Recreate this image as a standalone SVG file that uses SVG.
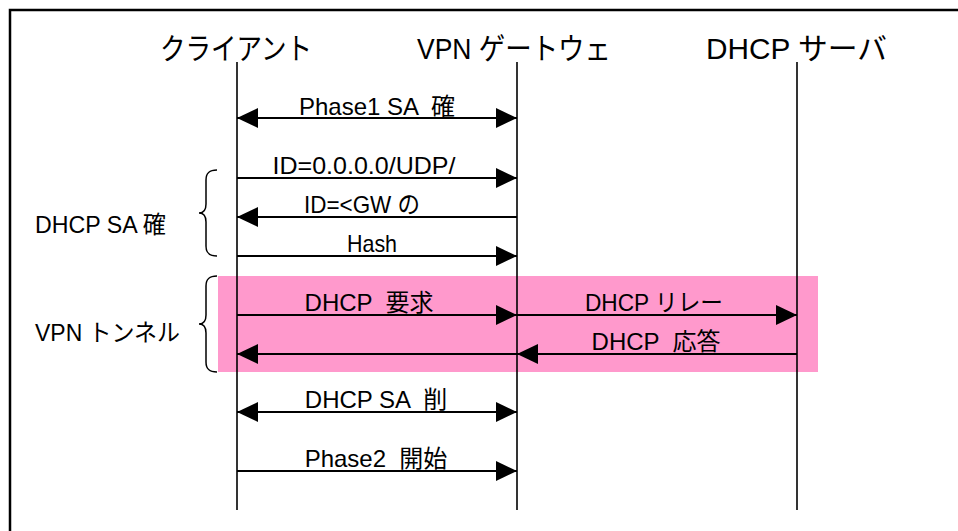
<svg xmlns="http://www.w3.org/2000/svg" width="958" height="531" viewBox="0 0 958 531">
  <style>
    .frame { fill: #ffffff; stroke: #000000; stroke-width: 2.5; }
    .life { stroke: #000000; stroke-width: 1.6; fill: none; }
    .msg { stroke: #000000; stroke-width: 2; fill: none; }
    .brace { stroke: #000000; stroke-width: 1.5; fill: none; }
    .head { font-family: "Liberation Sans", "Noto Sans CJK JP", sans-serif; font-size: 30px; fill: #000000; }
    .lbl { font-family: "Liberation Sans", "Noto Sans CJK JP", sans-serif; font-size: 24px; fill: #000000; }
  </style>
  <defs>
    <marker id="arrow" viewBox="0 0 21 20" refX="21" refY="10" markerWidth="21" markerHeight="20" markerUnits="userSpaceOnUse" orient="auto-start-reverse">
      <path d="M0,0 L21,10 L0,20 z" fill="#000000"/>
    </marker>
  </defs>

  <!-- outer frame (runs past the right and bottom edges) -->
  <rect class="frame" x="10" y="10" width="960" height="540"/>

  <!-- tunnel highlight -->
  <rect id="tunnel-band" x="218" y="276" width="600" height="96" fill="#ff99cc"/>

  <!-- participants -->
  <g id="client">
    <text class="head" x="160" y="59" textLength="152" lengthAdjust="spacingAndGlyphs">クライアント</text>
    <line class="life" x1="237" y1="62" x2="237" y2="510"/>
  </g>
  <g id="gateway">
    <text class="head" x="417" y="59" textLength="194" lengthAdjust="spacingAndGlyphs">VPN ゲートウェ</text>
    <line class="life" x1="517" y1="62" x2="517" y2="510"/>
  </g>
  <g id="dhcp-server">
    <text class="head" x="706" y="59" textLength="181" lengthAdjust="spacingAndGlyphs">DHCP サーバ</text>
    <line class="life" x1="797" y1="62" x2="797" y2="510"/>
  </g>

  <!-- group annotations -->
  <g id="dhcp-sa-group">
    <path class="brace" d="M217,170 C209,170 206,173 206,180 L206,204 C206,210 204,213 199,213 C204,213 206,216 206,222 L206,246 C206,253 209,256 217,256"/>
    <text class="lbl" x="35" y="233" textLength="131" lengthAdjust="spacingAndGlyphs">DHCP SA 確</text>
  </g>
  <g id="vpn-tunnel-group">
    <path class="brace" d="M217,276 C209,276 206,279 206,286 L206,315 C206,321 204,324 199,324 C204,324 206,327 206,333 L206,362 C206,369 209,372 217,372"/>
    <text class="lbl" x="35" y="341" textLength="145" lengthAdjust="spacingAndGlyphs">VPN トンネル</text>
  </g>

  <!-- messages -->
  <g id="connectors">
    <line class="msg" x1="237" y1="118" x2="517" y2="118" marker-start="url(#arrow)" marker-end="url(#arrow)"/>
    <line class="msg" x1="237" y1="178" x2="517" y2="178" marker-end="url(#arrow)"/>
    <line class="msg" x1="517" y1="217" x2="237" y2="217" marker-end="url(#arrow)"/>
    <line class="msg" x1="237" y1="256" x2="517" y2="256" marker-end="url(#arrow)"/>
    <line class="msg" x1="237" y1="315" x2="517" y2="315" marker-end="url(#arrow)"/>
    <line class="msg" x1="517" y1="315" x2="797" y2="315" marker-end="url(#arrow)"/>
    <line class="msg" x1="797" y1="354" x2="517" y2="354" marker-end="url(#arrow)"/>
    <line class="msg" x1="517" y1="354" x2="237" y2="354" marker-end="url(#arrow)"/>
    <line class="msg" x1="237" y1="412" x2="517" y2="412" marker-start="url(#arrow)" marker-end="url(#arrow)"/>
    <line class="msg" x1="237" y1="471" x2="517" y2="471" marker-end="url(#arrow)"/>
  </g>

  <!-- message labels -->
  <g id="labels">
    <text class="lbl" x="377" y="115" text-anchor="middle" xml:space="preserve">Phase1 SA  確</text>
    <text class="lbl" x="364" y="174" text-anchor="middle" textLength="183" lengthAdjust="spacingAndGlyphs">ID=0.0.0.0/UDP/</text>
    <text class="lbl" x="362" y="213" text-anchor="middle" textLength="116" lengthAdjust="spacingAndGlyphs">ID=&lt;GW の</text>
    <text class="lbl" x="372" y="252" text-anchor="middle" textLength="50" lengthAdjust="spacingAndGlyphs">Hash</text>
    <text class="lbl" x="369" y="311" text-anchor="middle" xml:space="preserve">DHCP  要求</text>
    <text class="lbl" x="654" y="311" text-anchor="middle" textLength="138" lengthAdjust="spacingAndGlyphs">DHCP リレー</text>
    <text class="lbl" x="656" y="350" text-anchor="middle" xml:space="preserve">DHCP  応答</text>
    <text class="lbl" x="376" y="408" text-anchor="middle" xml:space="preserve">DHCP SA  削</text>
    <text class="lbl" x="376" y="467" text-anchor="middle" xml:space="preserve">Phase2  開始</text>
  </g>
</svg>
